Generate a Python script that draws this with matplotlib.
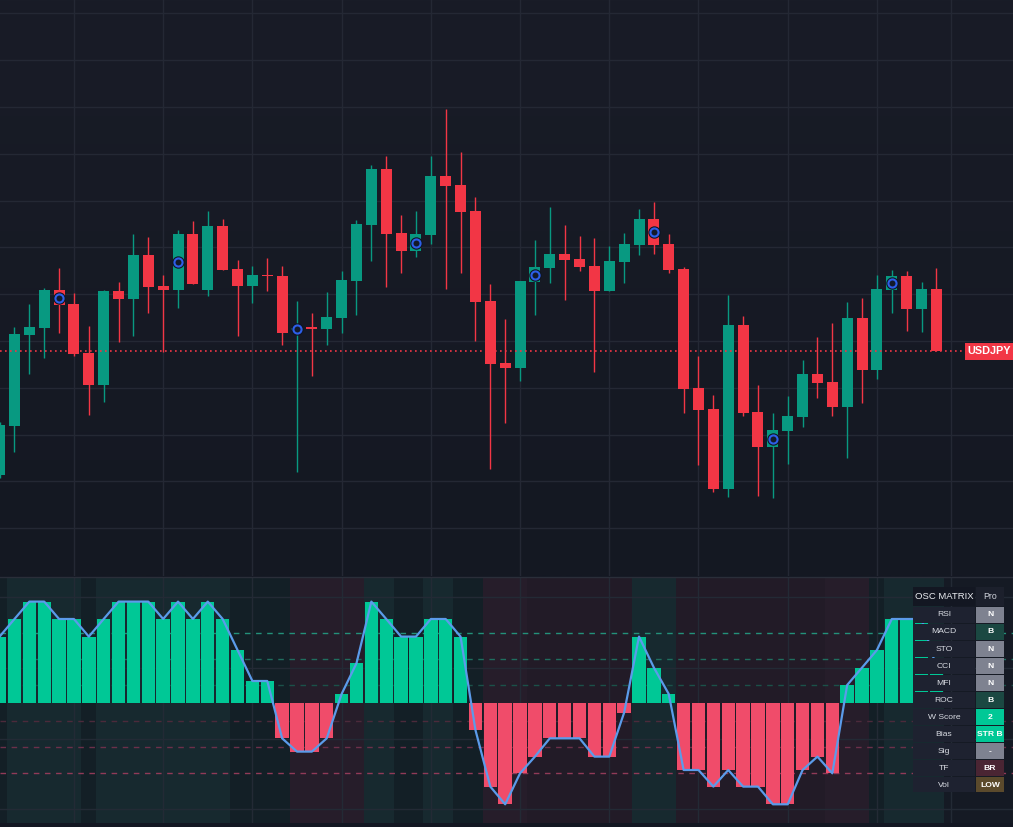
import numpy as np
import matplotlib.pyplot as plt
from matplotlib.patches import Rectangle
from matplotlib.colors import LinearSegmentedColormap

plt.rcParams['font.family'] = ['Liberation Sans', 'DejaVu Sans']

# USDJPY candles
open_ = [145.25, 145.74, 146.65, 146.72, 147.10, 146.96, 146.47, 146.15, 147.09, 147.01,
         147.45, 147.14, 147.10, 147.66, 147.10, 147.74, 147.31, 147.14, 147.25, 147.24,
         146.70, 146.73, 146.71, 146.82, 147.19, 147.75, 148.31, 147.67, 147.49, 147.65,
         148.24, 148.15, 147.89, 146.99, 146.37, 146.32, 147.18, 147.32, 147.46, 147.41,
         147.34, 147.09, 147.38, 147.55, 147.81, 147.56, 147.31, 146.12, 145.91, 145.11,
         146.75, 145.88, 145.53, 145.69, 145.83, 146.26, 146.18, 145.93, 146.82, 146.30,
         147.10, 147.24, 146.91, 147.11]
high = [145.78, 146.73, 146.96, 147.12, 147.32, 147.07, 146.74, 147.10, 147.18, 147.66,
        147.63, 147.25, 147.70, 147.79, 147.89, 147.81, 147.40, 147.34, 147.42, 147.34,
        146.99, 146.87, 147.08, 147.29, 147.80, 148.35, 148.44, 147.85, 147.89, 148.44,
        148.91, 148.48, 148.03, 147.16, 146.81, 147.19, 147.60, 147.93, 147.75, 147.64,
        147.62, 147.54, 147.67, 147.91, 147.98, 147.66, 147.33, 146.44, 146.05, 147.05,
        146.84, 146.15, 145.87, 146.04, 146.40, 146.63, 146.77, 146.98, 147.02, 147.25,
        147.30, 147.29, 147.18, 147.32]
low = [145.22, 145.48, 146.26, 146.42, 146.67, 146.44, 145.85, 145.98, 146.58, 146.64,
       146.87, 146.48, 146.92, 147.16, 147.04, 147.30, 146.64, 146.97, 147.09, 146.55,
       145.28, 146.24, 146.55, 146.67, 146.85, 147.39, 147.13, 147.27, 147.43, 147.56,
       147.11, 147.27, 146.59, 145.31, 145.77, 146.19, 146.85, 147.17, 147.00, 147.29,
       146.28, 147.09, 147.17, 147.45, 147.46, 147.27, 145.87, 145.35, 145.08, 145.03,
       145.84, 145.04, 145.02, 145.36, 145.73, 146.02, 145.84, 145.42, 145.97, 146.21,
       146.87, 146.69, 146.68, 146.49]
close = [145.75, 146.66, 146.73, 147.10, 146.95, 146.46, 146.15, 147.09, 147.01, 147.45,
         147.13, 147.10, 147.66, 147.16, 147.74, 147.30, 147.14, 147.25, 147.24, 146.67,
         146.72, 146.71, 146.83, 147.20, 147.76, 148.31, 147.66, 147.49, 147.66, 148.24,
         148.14, 147.88, 146.98, 146.36, 146.32, 147.19, 147.33, 147.46, 147.40, 147.33,
         147.09, 147.39, 147.56, 147.81, 147.55, 147.30, 146.11, 145.90, 145.11, 146.75,
         145.87, 145.53, 145.70, 145.84, 146.26, 146.17, 145.93, 146.82, 146.30, 147.11,
         147.24, 146.91, 147.11, 146.49]
signal_bars = [4, 12, 20, 28, 36, 44, 52, 60]
symbol = 'USDJPY'

# weighted oscillator score per bar
w_score = [66.7, 84.3, 101.7, 101.7, 84.3, 84.3, 66.7, 84.3, 101.7, 101.7,
           101.7, 84.3, 101.7, 84.3, 101.7, 84.3, 53.3, 22.3, 22.3, -35.0,
           -48.3, -48.3, -35.0, 9.3, 40.0, 101.7, 84.3, 66.7, 66.7, 84.3,
           84.3, 66.7, -26.7, -83.3, -101.0, -70.0, -53.3, -35.0, -35.0, -35.0,
           -53.3, -53.3, -9.3, 66.7, 35.7, 9.3, -66.7, -66.7, -83.3, -66.7,
           -83.3, -83.3, -101.0, -101.0, -66.7, -53.3, -70.0, 18.3, 35.7, 53.3,
           84.3, 84.3, 84.3, 36.0]
bull_levels = [70, 44, 18]
bear_levels = [-18, -44, -70]
regime = (['WB'] + ['SB'] * 5 + ['WB'] + ['SB'] * 9 + ['WB'] * 4 + ['SR'] * 5
          + ['SB'] * 2 + ['WB'] * 2 + ['SB'] * 2 + ['WB'] * 2 + ['SR'] * 3 + ['WR'] * 7
          + ['SB'] * 3 + ['WR'] * 10 + ['SR'] * 3 + ['WB'] + ['SB'] * 4)

tbl_labels = ['RSI', 'MACD', 'STO', 'CCI', 'MFI', 'ROC', 'W Score', 'Bias', 'Sig', 'TF', 'Vol']
tbl_values = ['N', 'B', 'N', 'N', 'N', 'B', '2', 'STR B', '-', 'BR', 'LOW']
tbl_colors = ['#7e8290', '#1b4842', '#7e8290', '#7e8290', '#7e8290', '#1b4842',
              '#00c896', '#00c896', '#7e8290', '#4a2533', '#5b4a2c']

W, H = 1013, 827
step = 14.87
fig = plt.figure(figsize=(W / 100, H / 100), dpi=100, facecolor='#131722')

# ---------------- price panel
ax = fig.add_axes([0, 1 - 576 / H, 1, 576 / H])
grad = np.linspace(0, 1, 256).reshape(-1, 1)
cmap = LinearSegmentedColormap.from_list('bg', ['#191c27', '#141822'])
ax.imshow(grad, cmap=cmap, extent=[0, 1, 0, 1], transform=ax.transAxes,
          aspect='auto', zorder=0)

x = np.arange(len(close))
o, h, l, c = map(np.array, (open_, high, low, close))
grid_x = list(range(5, 64, 6)) + [64]
grid_y = 150 - (13.3 + 46.8 * np.arange(12)) / 100
for gy in grid_y:
    ax.axhline(gy, color='#242834', lw=1, zorder=1)
for gx in grid_x:
    ax.axvline(gx, color='#242834', lw=1, zorder=1)

col = np.where(c >= o, '#089981', '#f23645')
ax.vlines(x, l, h, colors=col, lw=1, zorder=2)
body_h = np.maximum(np.abs(c - o), 0.014)
body_lo = (o + c) / 2 - body_h / 2
ax.bar(x, body_h, bottom=body_lo, width=0.74, color=col, lw=0, zorder=3)

sb = np.array(signal_bars)
mid = (o[sb] + c[sb]) / 2
ax.scatter(sb, mid, s=80, color='#0f1522', lw=0, zorder=4)
ax.scatter(sb, mid, s=34, facecolors='#131a2a', edgecolors='#2d5ee8', linewidths=1.5, zorder=5)

last = c[-1]
ax.axhline(last, xmin=0, xmax=965 / W, color='#f23645', lw=1.2, ls=(0, (1, 2)), zorder=6)
ax.add_patch(Rectangle((965 / W, last - 0.085), 48 / W, 0.17, transform=ax.get_yaxis_transform(),
                       fc='#f23645', ec='none', zorder=7, clip_on=False))
ax.text(989 / W, last, symbol, transform=ax.get_yaxis_transform(), ha='center', va='center',
        color='white', fontsize=7.8, fontweight='bold', zorder=8)

ax.set_xlim(0.4 / step, (W + 0.4) / step)
ax.set_ylim(150 - 5.76, 150.0)
ax.axis('off')

fig.add_artist(plt.Line2D([0, 1], [1 - 576.5 / H] * 2, color='#2a2e39', lw=1))

# ---------------- oscillator panel
ax2 = fig.add_axes([0, 4 / H, 1, (823 - 577) / H])
ax2.set_facecolor('#151a24')
bg_colors = {'SB': '#17292f', 'WB': '#131f26', 'SR': '#261d2a', 'WR': '#221b27'}
for i, st in enumerate(regime):
    ax2.axvspan(i - 0.5, i + 0.5, color=bg_colors[st], lw=0, zorder=0)
for gy in [106, 35.5, -35.5, -106]:
    ax2.axhline(gy, color='#232a35', lw=1, zorder=1)
for gx in grid_x:
    ax2.axvline(gx, color='#232a35', lw=1, zorder=1)
for lv, cl in zip(bull_levels, ['#23917a', '#1f6e5f', '#1b5149']):
    ax2.axhline(lv, color=cl, lw=1, ls=(0, (4, 4)), zorder=1.5)
for lv, cl in zip(bear_levels, ['#4c2a3b', '#6c304a', '#913a58']):
    ax2.axhline(lv, color=cl, lw=1, ls=(0, (4, 4)), zorder=1.5)

ws = np.array(w_score)
ax2.bar(x, ws, width=0.9, color=np.where(ws >= 0, '#00c896', '#f04c6a'), lw=0, zorder=3)
ax2.plot(x, ws, color='#5b9bea', lw=1.6, zorder=4)
ax2.set_xlim(0.4 / step, (W + 0.4) / step)
ax2.set_ylim(-119.7, 126.3)
ax2.set_xticks([])
ax2.set_yticks([])
for s in ax2.spines.values():
    s.set_visible(False)

# ---------------- matrix table
tax = fig.add_axes([913 / W, 1 - 792.3 / H, 91 / W, 205.3 / H])
tax.set_xlim(913, 1004)
tax.set_ylim(792.3, 587)
tax.axis('off')
tax.add_patch(Rectangle((913, 587), 62, 18.7, fc='#131722', ec='none'))
tax.add_patch(Rectangle((976, 587), 28, 18.7, fc='#1c202c', ec='none'))
tax.text(944, 596.5, 'OSC MATRIX', ha='center', va='center', color='#eceef2', fontsize=6.8)
tax.text(990, 596.5, 'Pro', ha='center', va='center', color='#d1d4dc', fontsize=6.3)
for i, (lab, val, fc) in enumerate(zip(tbl_labels, tbl_values, tbl_colors)):
    top = 606.7 + 17.05 * i
    tax.add_patch(Rectangle((913, top), 62, 16, fc='#1e2230', ec='none'))
    tax.add_patch(Rectangle((976, top), 28, 16, fc=fc, ec='none'))
    tax.text(944, top + 8.2, lab, ha='center', va='center', color='#d9dce3', fontsize=6.1)
    tax.text(990, top + 8.2, val, ha='center', va='center', color='white',
             fontsize=6.1, fontweight='bold')

fig.savefig('out.png', dpi=100, facecolor=fig.get_facecolor())
